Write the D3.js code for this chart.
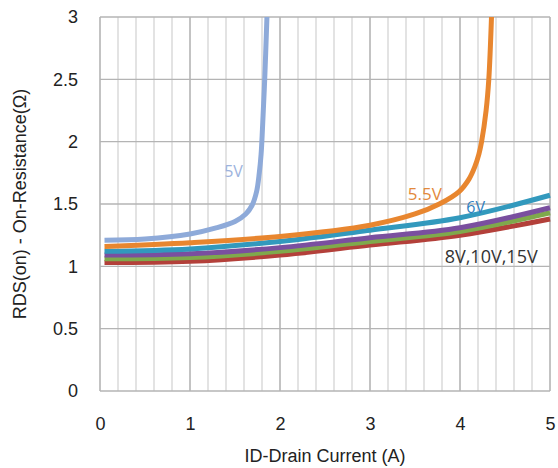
<!DOCTYPE html>
<html>
<head>
<meta charset="utf-8">
<script src="https://cdn.jsdelivr.net/npm/d3@7"></script>
<style>
  body { margin: 0; background: #fff; }
  svg text { font-family: "Liberation Sans", Arial, sans-serif; fill: #222; }
</style>
</head>
<body>
<svg id="chart" width="558" height="468"></svg>
<script>
// tick values
var xTicks = [0, 1, 2, 3, 4, 5];
var yTicks = [0, 0.5, 1, 1.5, 2, 2.5, 3];

// 5V and 5.5V have their own current points (they shoot up)
var current5V  = [0.05, 0.5, 1.0, 1.3, 1.5, 1.62, 1.69, 1.74, 1.77, 1.79, 1.805, 1.83, 1.855];
var rds5V      = [1.21, 1.22, 1.26, 1.31, 1.36, 1.42, 1.49, 1.6, 1.75, 1.9, 2.1, 2.5, 3.0];
var current55V = [0.05, 1, 2, 3, 3.5, 3.77, 3.99, 4.1, 4.165, 4.21, 4.24, 4.29, 4.32, 4.35];
var rds55V     = [1.16, 1.19, 1.24, 1.33, 1.42, 1.5, 1.6, 1.7, 1.8, 1.9, 2.0, 2.25, 2.5, 3.0];

// the others share the same currents
var current = [0.05, 1, 2, 3, 4, 5];
var rds6V   = [1.12, 1.14, 1.2, 1.29, 1.39, 1.57];
var rds8V   = [1.09, 1.1, 1.15, 1.23, 1.31, 1.47];
var rds10V  = [1.06, 1.07, 1.12, 1.2, 1.28, 1.43];
var rds15V  = [1.03, 1.04, 1.09, 1.17, 1.25, 1.38];

var seriesNames = ["15V", "10V", "8V", "6V", "5.5V", "5V"];
var seriesX = [current, current, current, current, current55V, current5V];
var seriesY = [rds15V, rds10V, rds8V, rds6V, rds55V, rds5V];
var seriesColor = ["#b3403a", "#7fa94c", "#7a4f9f", "#3299bd", "#e8862f", "#8eaad9"];

var margin = {top: 17, right: 8, bottom: 77, left: 100},
    width = 558 - margin.left - margin.right,
    height = 468 - margin.top - margin.bottom;

var svg = d3.select("#chart")
  .append("g")
    .attr("transform", "translate(" + margin.left + "," + margin.top + ")");

var x = d3.scaleLinear().domain([0, 5]).range([0, width]);
var y = d3.scaleLinear().domain([0, 3]).range([height, 0]);

// minor vertical grid every 0.2
svg.append("g")
  .selectAll("line")
  .data(d3.range(0, 25).map(function(i) { return i / 5; }).filter(function(d, i) { return i % 5 != 0; }))
  .enter().append("line")
    .attr("x1", function(d) { return x(d); })
    .attr("x2", function(d) { return x(d); })
    .attr("y1", 0)
    .attr("y2", height)
    .style("stroke", "#d0d0d0")
    .style("stroke-width", 1.2);

// major grid
svg.append("g")
  .selectAll("line")
  .data(xTicks)
  .enter().append("line")
    .attr("x1", function(d) { return x(d); })
    .attr("x2", function(d) { return x(d); })
    .attr("y1", 0)
    .attr("y2", height)
    .style("stroke", "#aaaaaa")
    .style("stroke-width", 1.4);

svg.append("g")
  .selectAll("line")
  .data(yTicks)
  .enter().append("line")
    .attr("x1", 0)
    .attr("x2", width)
    .attr("y1", function(d) { return y(d); })
    .attr("y2", function(d) { return y(d); })
    .style("stroke", "#b4b4b4")
    .style("stroke-width", 1.4);

// axes (labels only)
svg.append("g")
    .attr("transform", "translate(0," + height + ")")
    .call(d3.axisBottom(x).tickValues(xTicks).tickSize(0).tickPadding(26).tickFormat(d3.format("d")));
svg.append("g")
    .call(d3.axisLeft(y).tickValues(yTicks).tickSize(0).tickPadding(22).tickFormat(function(d) { return d; }));
svg.selectAll(".domain").remove();
svg.selectAll(".tick text").style("font-size", "18px").style("fill", "#222")
  .style("font-family", '"Liberation Sans", Arial, sans-serif');

svg.append("defs").append("clipPath").attr("id", "clip")
  .append("rect").attr("x", -5).attr("y", 0).attr("width", width + 10).attr("height", height);

var line = d3.line()
  .x(function(d) { return x(d[0]); })
  .y(function(d) { return y(d[1]); })
  .curve(d3.curveCatmullRom.alpha(0.5));

var lines = svg.append("g").attr("clip-path", "url(#clip)");
for (var i = 0; i < seriesNames.length; i++) {
  var pts = seriesX[i].map(function(v, j) { return [v, seriesY[i][j]]; });
  lines.append("path")
    .datum(pts)
    .attr("d", line)
    .style("fill", "none")
    .style("stroke", seriesColor[i])
    .style("stroke-width", 5);
}

// curve labels
var labelFont = '"Open Sans", "Noto Sans", sans-serif';
var labels = [
  {t: "5V", x: 1.38, y: 1.72, c: "#9db3dd", s: 16},
  {t: "5.5V", x: 3.42, y: 1.53, c: "#e3893c", s: 17},
  {t: "6V", x: 4.07, y: 1.43, c: "#2f7fbf", s: 16},
  {t: "8V,10V,15V", x: 3.83, y: 1.03, c: "#333", s: 18}
];
svg.selectAll(".lbl")
  .data(labels)
  .enter().append("text")
    .attr("x", function(d) { return x(d.x); })
    .attr("y", function(d) { return y(d.y); })
    .style("font-family", labelFont)
    .style("font-size", function(d) { return d.s + "px"; })
    .style("fill", function(d) { return d.c; })
    .text(function(d) { return d.t; });

// axis titles
svg.append("text")
  .attr("x", width / 2)
  .attr("y", height + 71)
  .style("text-anchor", "middle")
  .style("font-size", "18px")
  .text("ID-Drain Current (A)");

svg.append("text")
  .attr("transform", "translate(" + (-74) + "," + (height / 2) + ") rotate(-90)")
  .style("text-anchor", "middle")
  .style("font-size", "18px")
  .text("RDS(on) - On-Resistance(Ω)");
</script>
</body>
</html>
